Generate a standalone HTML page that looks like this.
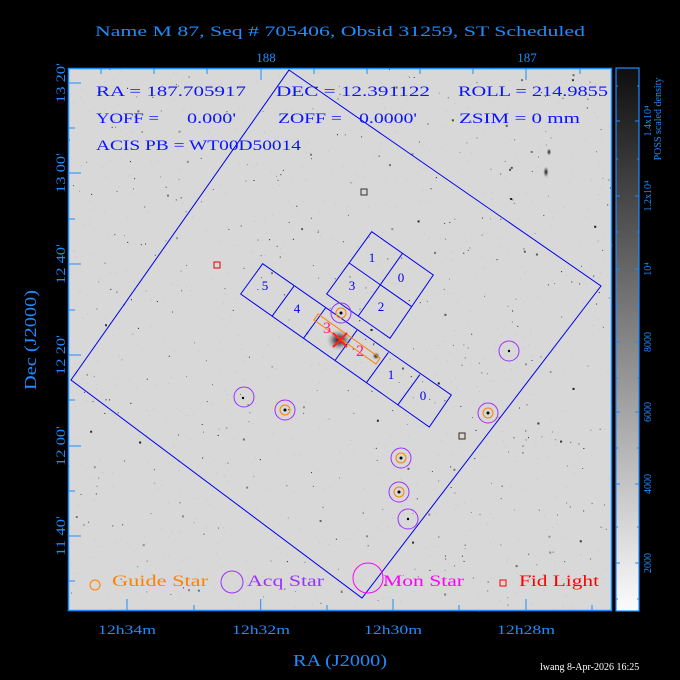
<!DOCTYPE html>
<html><head><meta charset="utf-8"><style>
html,body{margin:0;padding:0;background:#000;}
svg{display:block;}
text{font-family:"Liberation Serif",serif;}
</style></head><body>
<svg id="s" width="680" height="680" viewBox="0 0 680 680" xmlns="http://www.w3.org/2000/svg">
<defs>
<linearGradient id="cb" x1="0" y1="1" x2="0" y2="0">
<stop offset="0" stop-color="#fcfcfc"/><stop offset="1" stop-color="#0e0e0e"/>
</linearGradient>
<radialGradient id="gal"><stop offset="0" stop-color="#111"/><stop offset="0.4" stop-color="#555" stop-opacity="0.8"/><stop offset="1" stop-color="#bbb" stop-opacity="0"/></radialGradient>
</defs>
<rect width="680" height="680" fill="#000"/>
<text x="340" y="36" fill="#1e8cff" font-size="15" text-anchor="middle" textLength="490" lengthAdjust="spacingAndGlyphs">Name M 87, Seq # 705406, Obsid 31259, ST Scheduled</text>
<rect x="68" y="68" width="544" height="543" fill="#d8d8d8"/>
<g id="stars"></g>
<ellipse cx="339" cy="340" rx="13" ry="11" fill="url(#gal)"/>
<ellipse cx="546" cy="172" rx="3" ry="6" fill="url(#gal)"/>
<ellipse cx="549" cy="152" rx="2.5" ry="4" fill="url(#gal)"/>
<ellipse cx="376" cy="356" rx="4" ry="4" fill="url(#gal)"/>
<polygon points="289,70 601,286 362,598 71,380" fill="none" stroke="#0000ee" stroke-width="1"/>
<g fill="none" stroke="#0000ee" stroke-width="1">
<polygon points="371.7,231.7 433.3,275 390,338.3 326.7,294"/>
<line x1="402.5" y1="253.3" x2="358.3" y2="316"/>
<line x1="411.7" y1="306.7" x2="349.2" y2="263"/>
<polygon points="240.7,294 262.7,263.7 451.3,395 429.3,427"/>
<line x1="294.1" y1="285.9" x2="272.1" y2="316.2"/>
<line x1="325.5" y1="308" x2="303.5" y2="338.3"/>
<line x1="357" y1="330.2" x2="335" y2="360.5"/>
<line x1="388.4" y1="352.4" x2="366.4" y2="382.7"/>
<line x1="419.9" y1="374.6" x2="397.9" y2="404.8"/>
</g>
<g fill="#0000ee" font-size="13" text-anchor="middle">
<text x="372" y="262">1</text><text x="401" y="282">0</text>
<text x="352" y="290">3</text><text x="381" y="311">2</text>
<text x="265" y="290">5</text><text x="297" y="313">4</text>
<text x="391" y="379">1</text><text x="423" y="400">0</text>
</g>
<polygon points="314,320 318,314 380,358 376,364" fill="none" stroke="#ff8000" stroke-width="1"/>
<g fill="#ff1493" font-size="16" text-anchor="middle"><text x="327" y="333">3</text><text x="360" y="356">2</text></g>
<g stroke="#ff2020" stroke-width="2"><line x1="333" y1="333" x2="347" y2="347"/><line x1="347" y1="333" x2="333" y2="347"/></g>
<g fill="none" stroke="#9b30ff" stroke-width="1">
<circle cx="341" cy="313" r="10"/><circle cx="244" cy="397" r="10"/><circle cx="285" cy="410" r="10"/>
<circle cx="401" cy="458" r="10"/><circle cx="399" cy="492" r="10"/><circle cx="408" cy="519" r="10"/>
<circle cx="488" cy="413" r="10"/><circle cx="509" cy="351" r="10"/>
</g>
<g fill="none" stroke="#ff8000" stroke-width="1">
<circle cx="341" cy="313" r="5"/><circle cx="285" cy="410" r="5"/><circle cx="401" cy="458" r="5"/>
<circle cx="399" cy="492" r="5"/><circle cx="488" cy="413" r="5"/>
</g>
<g fill="#000"><circle cx="341" cy="313" r="1.5"/><circle cx="285" cy="410" r="1.5"/><circle cx="401" cy="458" r="1.5"/><circle cx="399" cy="492" r="1.5"/><circle cx="488" cy="413" r="1.5"/><circle cx="509" cy="351" r="1.2"/><circle cx="408" cy="519" r="1.2"/><circle cx="243" cy="398" r="1.2"/></g>
<g fill="none" stroke="#e00000"><rect x="214" y="262" width="6" height="6"/><rect x="459" y="433" width="6" height="6" stroke="#442222"/><rect x="361" y="189" width="6" height="6" stroke="#333"/></g>
<g fill="#0a14ff" font-size="15">
<text x="96" y="96" textLength="150" lengthAdjust="spacingAndGlyphs">RA = 187.705917</text>
<text x="276" y="96" textLength="154" lengthAdjust="spacingAndGlyphs">DEC = 12.391122</text>
<text x="458" y="96" textLength="150" lengthAdjust="spacingAndGlyphs">ROLL = 214.9855</text>
<text x="96" y="123" textLength="63" lengthAdjust="spacingAndGlyphs">YOFF =</text>
<text x="187" y="123" textLength="49" lengthAdjust="spacingAndGlyphs">0.000'</text>
<text x="278" y="123" textLength="64" lengthAdjust="spacingAndGlyphs">ZOFF =</text>
<text x="359" y="123" textLength="58" lengthAdjust="spacingAndGlyphs">0.0000'</text>
<text x="459" y="123" textLength="121" lengthAdjust="spacingAndGlyphs">ZSIM = 0 mm</text>
<text x="96" y="150" textLength="205" lengthAdjust="spacingAndGlyphs">ACIS PB = WT00D50014</text>
</g>
<circle cx="95" cy="585" r="5" fill="none" stroke="#ff8000"/>
<text x="112" y="586" fill="#ff8000" font-size="16" textLength="96" lengthAdjust="spacingAndGlyphs">Guide Star</text>
<circle cx="232" cy="582" r="11" fill="none" stroke="#9b30ff"/>
<text x="247" y="586" fill="#9b30ff" font-size="16" textLength="77" lengthAdjust="spacingAndGlyphs">Acq Star</text>
<circle cx="368" cy="578" r="15" fill="none" stroke="#ff00ff"/>
<text x="383" y="586" fill="#ff00ff" font-size="16" textLength="81" lengthAdjust="spacingAndGlyphs">Mon Star</text>
<rect x="500" y="580" width="6" height="6" fill="none" stroke="#ff0000"/>
<text x="519" y="586" fill="#ff0000" font-size="16" textLength="80" lengthAdjust="spacingAndGlyphs">Fid Light</text>
<rect x="68.5" y="68.5" width="543" height="542" fill="none" stroke="#1e8cff" stroke-width="1.5"/>
<g id="ticks" stroke="#1e8cff" stroke-width="1"></g>
<g fill="#1e8cff" font-size="13" text-anchor="middle">
<text x="266" y="62">188</text><text x="527" y="62">187</text>
<text x="127" y="634" textLength="58" lengthAdjust="spacingAndGlyphs">12h34m</text>
<text x="261" y="634" textLength="58" lengthAdjust="spacingAndGlyphs">12h32m</text>
<text x="393" y="634" textLength="58" lengthAdjust="spacingAndGlyphs">12h30m</text>
<text x="526" y="634" textLength="58" lengthAdjust="spacingAndGlyphs">12h28m</text>
<text x="340" y="666" font-size="17" textLength="94" lengthAdjust="spacingAndGlyphs">RA (J2000)</text>
</g>
<g fill="#1e8cff" font-size="13" text-anchor="middle">
<text transform="translate(65,83) rotate(-90)" textLength="40" lengthAdjust="spacingAndGlyphs">13 20'</text>
<text transform="translate(65,173) rotate(-90)" textLength="40" lengthAdjust="spacingAndGlyphs">13 00'</text>
<text transform="translate(65,264) rotate(-90)" textLength="40" lengthAdjust="spacingAndGlyphs">12 40'</text>
<text transform="translate(65,355) rotate(-90)" textLength="40" lengthAdjust="spacingAndGlyphs">12 20'</text>
<text transform="translate(65,446) rotate(-90)" textLength="40" lengthAdjust="spacingAndGlyphs">12 00'</text>
<text transform="translate(65,536) rotate(-90)" textLength="40" lengthAdjust="spacingAndGlyphs">11 40'</text>
<text transform="translate(36,340) rotate(-90)" font-size="17" textLength="100" lengthAdjust="spacingAndGlyphs">Dec (J2000)</text>
</g>
<rect x="616" y="68" width="23" height="543" fill="url(#cb)" stroke="#1e8cff" stroke-width="1.2"/>
<g id="cbt" stroke="#1e8cff"></g>
<g fill="#1e8cff" font-size="10" text-anchor="middle">
<text transform="translate(651,563) rotate(-90)">2000</text>
<text transform="translate(651,484) rotate(-90)">4000</text>
<text transform="translate(651,412) rotate(-90)">6000</text>
<text transform="translate(651,342) rotate(-90)">8000</text>
<text transform="translate(651,269) rotate(-90)">10⁴</text>
<text transform="translate(651,196) rotate(-90)">1.2x10⁴</text>
<text transform="translate(651,121) rotate(-90)">1.4x10⁴</text>
<text transform="translate(661,119) rotate(-90)">POSS scaled density</text>
</g>
<text x="540" y="670" fill="#fff" font-size="10" font-family="Liberation Sans,sans-serif">lwang  8-Apr-2026 16:25</text>
</svg>
<script>
var NS="http://www.w3.org/2000/svg",st=document.getElementById("stars"),seed=7;
function r(){seed=(seed*16807)%2147483647;return seed/2147483647;}
for(var i=0;i<450;i++){var c=document.createElementNS(NS,"rect");var x=68+r()*544,y=68+r()*543,s=r()<0.88?1:2;c.setAttribute("x",x);c.setAttribute("y",y);c.setAttribute("width",s);c.setAttribute("height",s);var g=Math.floor(20+r()*130);c.setAttribute("fill","rgb("+g+","+g+","+g+")");st.appendChild(c);}
for(var i=0;i<900;i++){var c=document.createElementNS(NS,"rect");c.setAttribute("x",68+r()*544);c.setAttribute("y",68+r()*543);c.setAttribute("width",1);c.setAttribute("height",1);c.setAttribute("fill","#c6c6c6");st.appendChild(c);}
var tk=document.getElementById("ticks");
function L(g,a,b,c,d){var l=document.createElementNS(NS,"line");l.setAttribute("x1",a);l.setAttribute("y1",b);l.setAttribute("x2",c);l.setAttribute("y2",d);g.appendChild(l);}
[101,154,207,261,314,367,420,473,526,580].forEach(function(x){var m=(x==261||x==526);L(tk,x,69,x,m?80:74);});
[127,260.7,393,526].forEach(function(x){L(tk,x,611,x,599);});
[194,327,459,592].forEach(function(x){L(tk,x,611,x,605);});
[83,173,264,355,446,536].forEach(function(y){L(tk,69,y,81,y);});
[128,219,310,400,491,581].forEach(function(y){L(tk,69,y,75,y);});
var cb=document.getElementById("cbt");
[563,484,412,342,269,196,121].forEach(function(y){L(cb,616,y,620,y);L(cb,635,y,639,y);});
[599,527,448,378,305,232,159,86].forEach(function(y){L(cb,616,y,618,y);L(cb,637,y,639,y);});
</script>
</body></html>
